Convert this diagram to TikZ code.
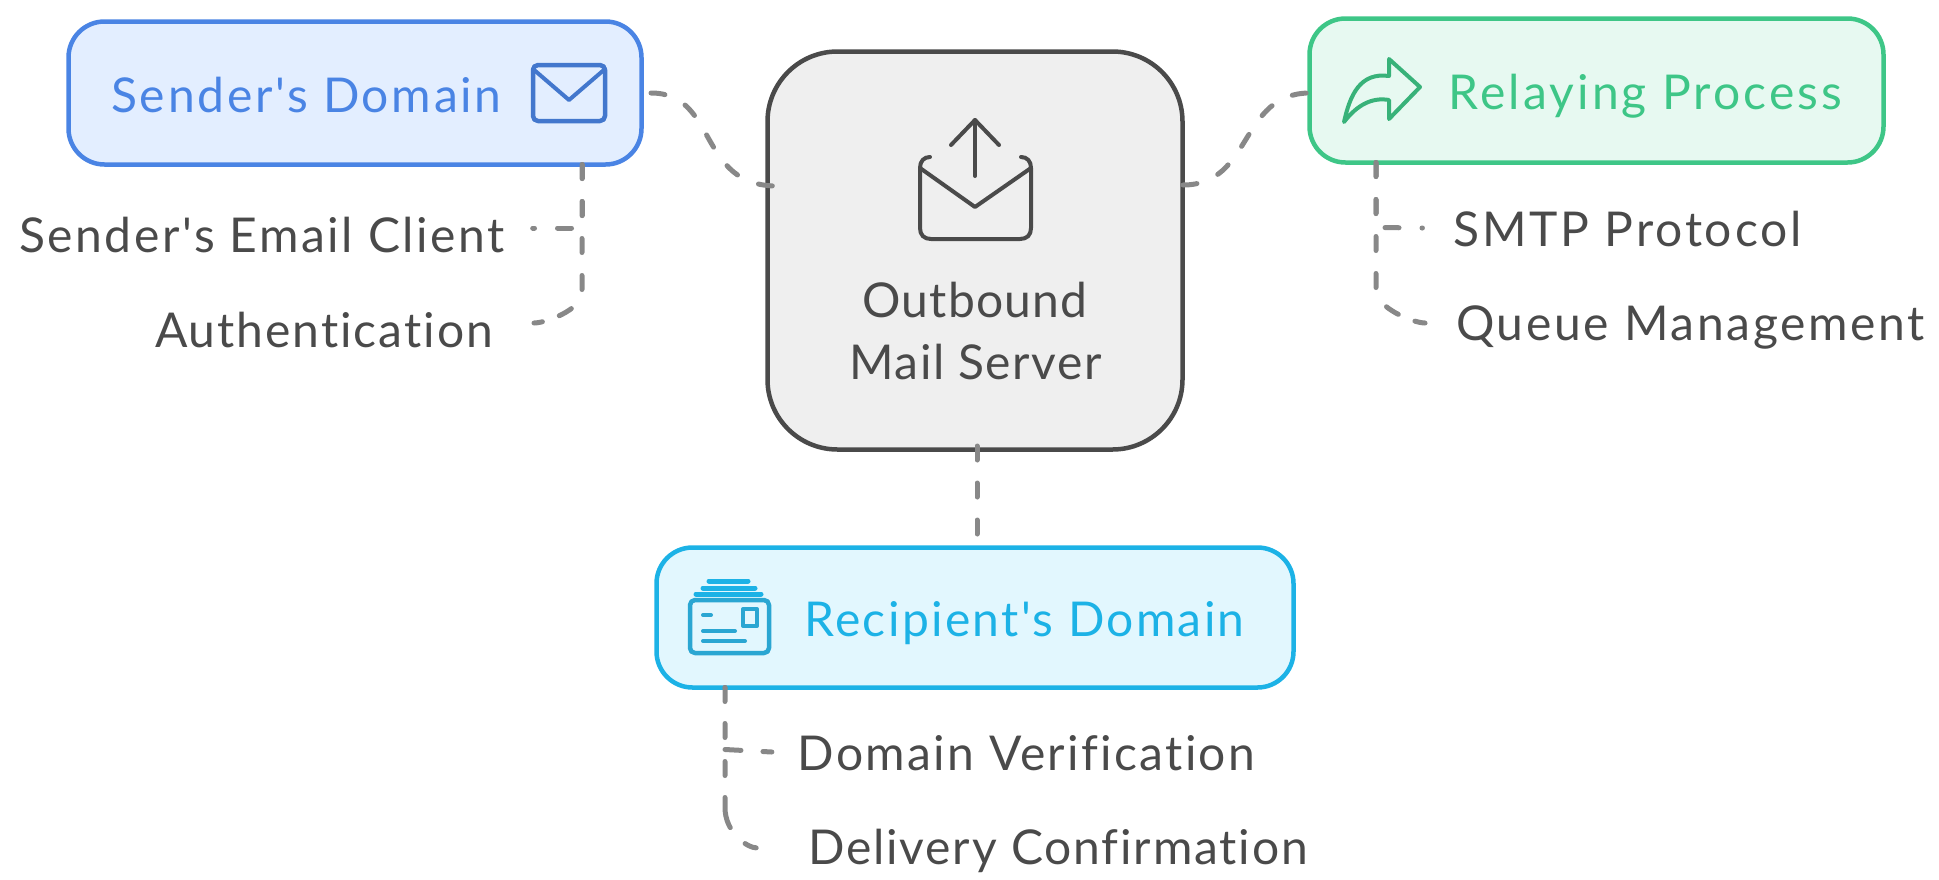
\documentclass[tikz,border=0pt]{standalone}
\usepackage{fontspec}
\newfontfamily\gillish{Lato}[Ligatures={NoCommon}]
\newcommand{\ls}[1]{\addfontfeature{LetterSpace=#1}}
\definecolor{inkgray}{HTML}{4A4A4A}
\definecolor{linkgray}{HTML}{888888}
\definecolor{bluestroke}{HTML}{4A84E4}
\definecolor{bluefill}{HTML}{E3EEFF}
\definecolor{greenstroke}{HTML}{3EC687}
\definecolor{greenfill}{HTML}{E7F9F1}
\definecolor{cyanstroke}{HTML}{1CB2E6}
\definecolor{cyanfill}{HTML}{E2F7FE}
\definecolor{grayfill}{HTML}{EFEFEF}
\definecolor{cyanicon}{HTML}{2AA6D2}
\tikzset{
  x=1pt,y=-1pt,
  boxbase/.style={draw,line width=4.5pt,outer sep=0pt,inner sep=0pt},
  senderbox/.style={boxbase,draw=bluestroke,fill=bluefill,rounded corners=36pt,minimum width=573pt,minimum height=143pt},
  relaybox/.style={boxbase,draw=greenstroke,fill=greenfill,rounded corners=36pt,minimum width=574pt,minimum height=144pt},
  recipbox/.style={boxbase,draw=cyanstroke,fill=cyanfill,rounded corners=36pt,minimum width=637pt,minimum height=140pt},
  serverbox/.style={boxbase,draw=inkgray,fill=grayfill,rounded corners=70pt,minimum width=415pt,minimum height=398pt},
  label/.style={anchor=base,inner sep=0pt,outer sep=0pt,font=\gillish\fontsize{48}{62}\selectfont},
  leaf/.style={label,text=inkgray},
  link/.style={draw=linkgray,line width=5pt,line cap=round,dash pattern=on 14pt off 23pt},
  iconline/.style={line width=4pt,line cap=round,line join=round},
}
\begin{document}
\begin{tikzpicture}
\useasboundingbox (0,0) rectangle (1939,879);
% boxes
\node[senderbox] (sender) at (355,93) {};
\node[serverbox] (server) at (975,250.5) {};
\node[relaybox] (relay) at (1596.5,90.5) {};
\node[recipbox] (recipient) at (975,617.5) {};
% labels
\node[label,text=bluestroke] (senderlabel) at (306.5,112) {\ls{5.6}Sender's Domain};
\node[label,text=greenstroke] (relaylabel) at (1645.5,109) {\ls{6.5}Relaying Process};
\node[label,text=cyanstroke] (reciplabel) at (1024.5,636) {\ls{4.8}Recipient's Domain};
\node[label,text=inkgray] (serverlabel1) at (975,317) {\ls{2.6}Outbound};
\node[label,text=inkgray] (serverlabel2) at (975.5,379) {\ls{3.1}Mail Server};
\node[leaf] (client) at (262,252) {\ls{5.3}Sender's Email Client};
\node[leaf] (auth) at (324,347) {\ls{4.1}Authentication};
\node[leaf] (smtp) at (1627.5,246) {\ls{5.9}SMTP Protocol};
\node[leaf] (queue) at (1690.5,340) {\ls{5.6}Queue Management};
\node[leaf] (verify) at (1026.5,770) {\ls{4.8}Domain Verification};
\node[leaf] (confirm) at (1058,864) {\ls{3.8}Delivery Confirmation};
% connectors
\draw[link] ([shift={(9.5,0)}]sender.east) .. controls +(67,0) and +(-80,0) .. ([shift={(9.5,-64.5)}]server.west);
\draw[link] ([shift={(0.5,-65.5)}]server.east) .. controls +(70,0) and +(-71,0) .. ([shift={(0.5,2.5)}]relay.west);
\draw[link] ([shift={(2,-3.5)}]server.south) -- ([shift={(2,-4.5)}]recipient.north);
\draw[link] ([shift={(513.5,0)}]sender.south west) -- ++(0,63.5) -- ([shift={(28,-24)}]client.base east);
\draw[link,dash pattern=on 14pt off 23pt on 14pt off 23pt on 14pt off 23pt on 14pt off 23pt on 14pt off 18pt on 14pt] ([shift={(513.5,0)}]sender.south west) -- ++(0,128) .. controls +(0,17) and +(12,0) .. ([shift={(41,-24)}]auth.base east);
\draw[link] ([shift={(66.5,0)}]relay.south west) -- ++(0,65) -- ([shift={(-31,-18)}]smtp.base west);
\draw[link,dash pattern=on 14pt off 23pt on 14pt off 23pt on 14pt off 23pt on 14pt off 23pt on 14pt off 18pt on 14pt] ([shift={(66.5,0)}]relay.south west) -- ++(0,128) .. controls +(0,17) and +(-12,0) .. ([shift={(-31,-17)}]queue.base west);
\draw[link,dash pattern=on 0pt off 62pt on 16pt off 22pt on 10pt] ([shift={(68.5,0)}]recipient.south west) -- ++(0,62) -- ([shift={(-26,-18)}]verify.base west);
\draw[link,dash pattern=on 14pt off 22pt on 14pt off 24pt on 14pt off 22pt on 31pt off 22pt on 12pt] ([shift={(68.5,0)}]recipient.south west) -- ++(0,120) .. controls +(0,25) and +(-10,0) .. ([shift={(-51,-16)}]confirm.base west);
% sender icon
\draw[iconline,line width=4.5pt,draw=bluestroke!90!black,rounded corners=5pt] (533,65) rectangle (605,121);
\draw[iconline,draw=bluestroke!90!black,line join=round] (533,69) -- (569,100) -- (605,69);
% server icon
\draw[iconline,draw=inkgray] (975,176) -- (975,120);
\draw[iconline,draw=inkgray] (951,145) -- (975,120) -- (999,145);
\draw[iconline,draw=inkgray] (930,157) .. controls (924,157) and (920,161) .. (920,168) -- (920,228) .. controls (920,235) and (924,239) .. (931,239) -- (1020,239) .. controls (1027,239) and (1031,235) .. (1031,228) -- (1031,168) .. controls (1031,161) and (1027,157) .. (1021,157);
\draw[iconline,draw=inkgray] (920,168) -- (975,207) -- (1031,168);
% relay icon
\draw[iconline,draw=greenstroke!90!black] (1420,87) -- (1389,59) -- (1389,76) .. controls (1360,72) and (1350,95) .. (1344,122) .. controls (1357,105) and (1372,97) .. (1389,100) -- (1389,119) -- cycle;
% recipient icon
\draw[iconline,line width=4.5pt,draw=cyanicon,rounded corners=5pt] (690,600) rectangle (769,653);
\draw[iconline,line width=5pt,draw=cyanstroke] (709,581) -- (748,581);
\draw[iconline,line width=5pt,draw=cyanstroke] (703,588) -- (755,588);
\draw[iconline,line width=5pt,draw=cyanstroke] (696,594) -- (761,594);
\draw[iconline,draw=cyanicon] (743,609) rectangle (757,626);
\draw[iconline,draw=cyanicon] (703,615) -- (711,615);
\draw[iconline,draw=cyanicon] (703,631) -- (735,631);
\draw[iconline,draw=cyanicon] (703,641) -- (745,641);
\end{tikzpicture}
\end{document}
